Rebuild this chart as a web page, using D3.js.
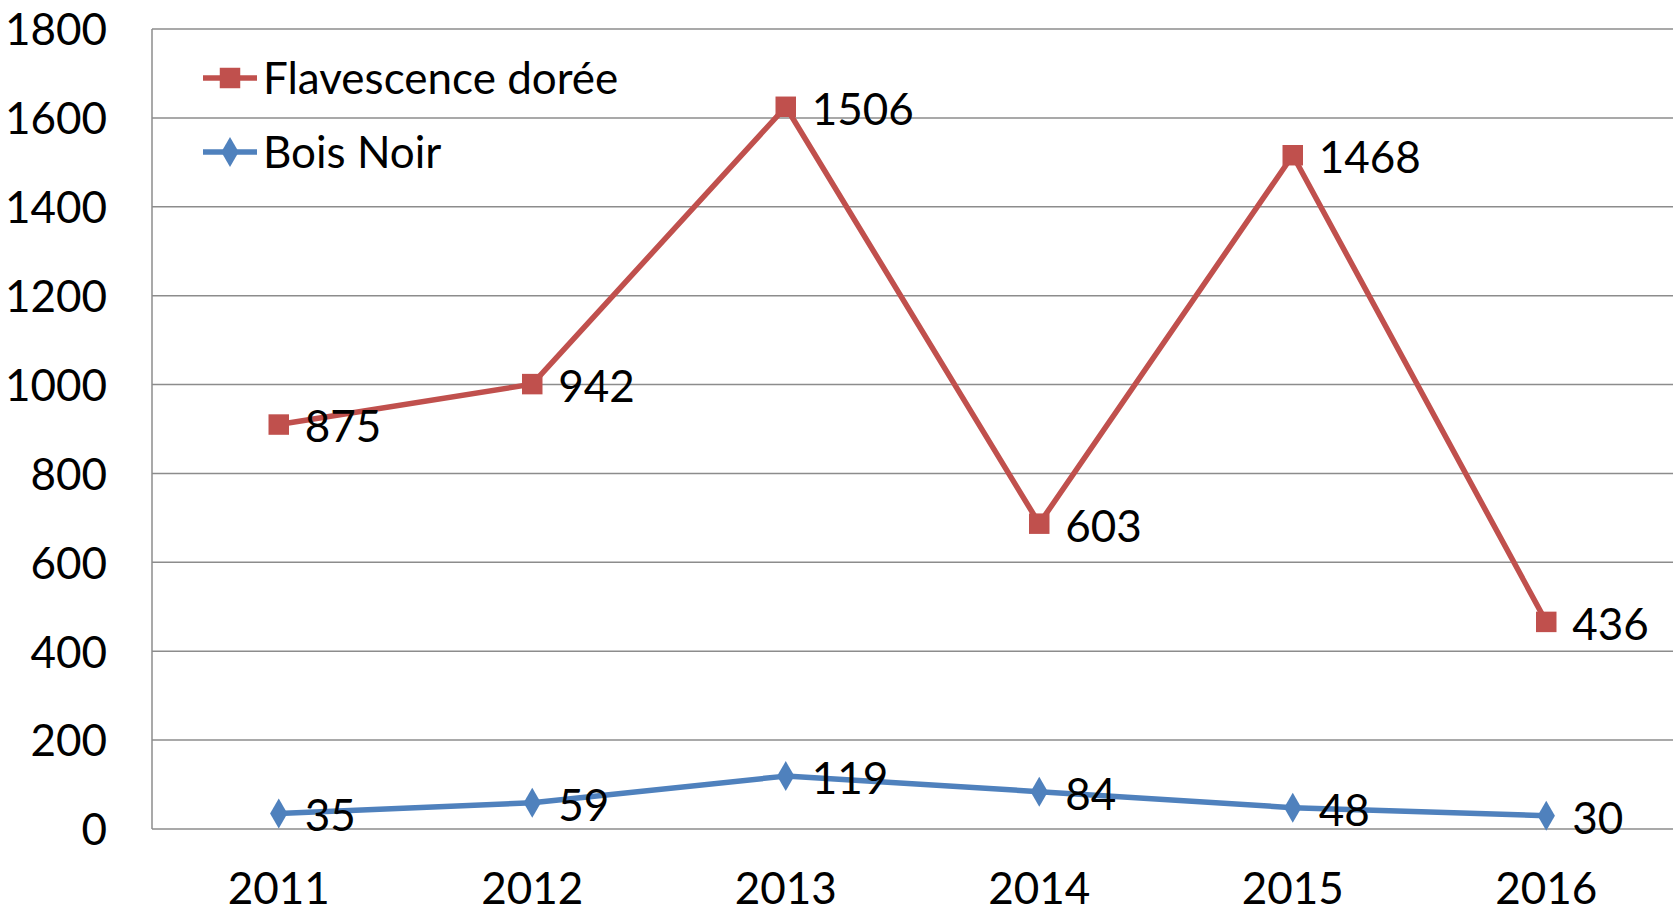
<!DOCTYPE html>
<html>
<head>
<meta charset="utf-8">
<script src="https://cdn.jsdelivr.net/npm/d3@7"></script>
<style>
  html, body { margin: 0; padding: 0; background: #fff; }
  svg text { font-family: "Lato", "Open Sans", sans-serif; fill: #000; }
</style>
</head>
<body>
<svg id="chart"></svg>
<script>
const years = ["2011", "2012", "2013", "2014", "2015", "2016"];
const flavescence = [875, 942, 1506, 603, 1468, 436];
const boisNoir = [35, 59, 119, 84, 48, 30];
const yTicks = [0, 200, 400, 600, 800, 1000, 1200, 1400, 1600, 1800];

const width = 1680;
const height = 913;
const margin = { top: 29, right: 7, bottom: 84, left: 152 };
const fontSize = "44px";

const svg = d3.select("#chart").attr("width", width).attr("height", height);

// stacked line chart: Bois Noir at the bottom, Flavescence on top
const rows = years.map((y, i) => ({ year: y, boisNoir: boisNoir[i], flavescence: flavescence[i] }));
const stacked = d3.stack().keys(["boisNoir", "flavescence"])(rows);

const x = d3.scaleBand()
  .domain(years)
  .range([margin.left, width - margin.right]);

const y = d3.scaleLinear()
  .domain([0, 1800])
  .range([height - margin.bottom, margin.top]);

const cx = (d) => x(d) + x.bandwidth() / 2;

// grid
svg.append("g")
  .selectAll("line")
  .data(yTicks)
  .enter()
  .append("line")
  .attr("x1", margin.left)
  .attr("x2", width - margin.right)
  .attr("y1", (d) => y(d))
  .attr("y2", (d) => y(d))
  .attr("stroke", "#8c8c8c")
  .attr("stroke-width", 1.5);

// left axis line
svg.append("line")
  .attr("x1", margin.left)
  .attr("x2", margin.left)
  .attr("y1", y(1800))
  .attr("y2", y(0))
  .attr("stroke", "#8c8c8c")
  .attr("stroke-width", 1.5);

// y axis labels
svg.append("g")
  .attr("transform", `translate(${margin.left},0)`)
  .call(d3.axisLeft(y).tickValues(yTicks).tickFormat(d3.format("d")).tickSize(0).tickPadding(45))
  .call((g) => g.select(".domain").remove())
  .call((g) => g.selectAll("text")
    .style("font-family", "Lato, 'Open Sans', sans-serif")
    .style("font-size", fontSize)
    .attr("dy", "0.36em"));

// x axis labels
svg.append("g")
  .attr("transform", `translate(0,${height - margin.bottom})`)
  .call(d3.axisBottom(x).tickSize(0).tickPadding(44))
  .call((g) => g.select(".domain").remove())
  .call((g) => g.selectAll("text")
    .style("font-family", "Lato, 'Open Sans', sans-serif")
    .style("font-size", fontSize));

const series = [
  { name: "Flavescence dorée", raw: flavescence, top: stacked[1].map((d) => d[1]), color: "#C0504D", symbol: d3.symbolSquare, size: 420 },
  { name: "Bois Noir", raw: boisNoir, top: stacked[0].map((d) => d[1]), color: "#4F81BD", symbol: d3.symbolDiamond, size: 260 }
];

const line = d3.line()
  .x((d, i) => cx(years[i]))
  .y((d) => y(d));

series.slice().reverse().forEach((s) => {
  const g = svg.append("g");
  g.append("path")
    .datum(s.top)
    .attr("d", line)
    .attr("fill", "none")
    .attr("stroke", s.color)
    .attr("stroke-width", 5.5)
    .attr("stroke-linejoin", "round");

  g.selectAll("path.marker")
    .data(s.top)
    .enter()
    .append("path")
    .attr("class", "marker")
    .attr("d", d3.symbol().type(s.symbol).size(s.size))
    .attr("transform", (d, i) => `translate(${cx(years[i])},${y(d)})`)
    .attr("fill", s.color);

  g.selectAll("text")
    .data(s.top)
    .enter()
    .append("text")
    .attr("x", (d, i) => cx(years[i]) + 26)
    .attr("y", (d) => y(d) + 2)
    .attr("dy", "0.36em")
    .style("font-size", fontSize)
    .text((d, i) => s.raw[i]);
});

// legend
const legend = svg.append("g");
series.forEach((s, i) => {
  const ly = 78 + i * 74;
  legend.append("line")
    .attr("x1", 203)
    .attr("x2", 257)
    .attr("y1", ly)
    .attr("y2", ly)
    .attr("stroke", s.color)
    .attr("stroke-width", 5.5);
  legend.append("path")
    .attr("d", d3.symbol().type(s.symbol).size(s.size))
    .attr("transform", `translate(230,${ly})`)
    .attr("fill", s.color);
  legend.append("text")
    .attr("x", 263)
    .attr("y", ly)
    .attr("dy", "0.36em")
    .style("font-size", fontSize)
    .text(s.name);
});
</script>
</body>
</html>
